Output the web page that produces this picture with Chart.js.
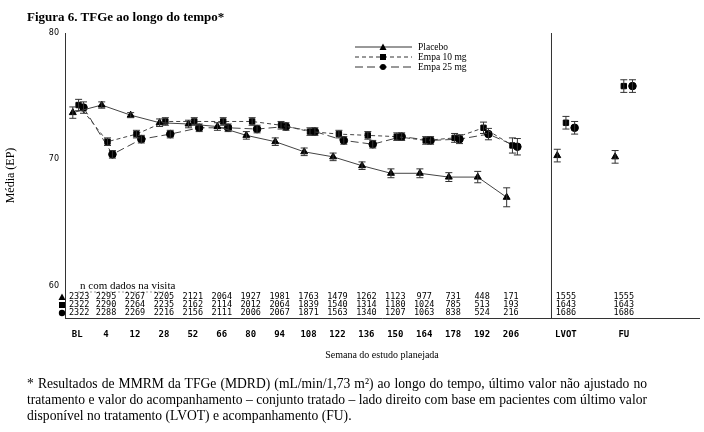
<!DOCTYPE html>
<html><head><meta charset="utf-8">
<script src="https://cdn.jsdelivr.net/npm/chart.js@4/dist/chart.umd.min.js"></script>
<style>
body{margin:0;width:704px;height:432px;background:#fff;position:relative;overflow:hidden;font-family:"Liberation Serif",serif}
#t{position:absolute;left:27px;top:9px;font-weight:bold;font-size:13px}
#f{position:absolute;left:27px;top:376px;width:620px;font-size:13.6px;line-height:16px;text-align:justify}
canvas{position:absolute;left:0;top:0}
</style></head><body>
<canvas id="c" width="704" height="432"></canvas>
<div id="t">Figura 6. TFGe ao longo do tempo*</div>
<div id="f">* Resultados de MMRM da TFGe (MDRD) (mL/min/1,73 m²) ao longo do tempo, último valor não ajustado no tratamento e valor do acompanhamento – conjunto tratado – lado direito com base em pacientes com último valor disponível no tratamento (LVOT) e acompanhamento (FU).</div>
<script>
const categories=["BL","4","12","28","52","66","80","94","108","122","136","150","164","178","192","206"];
const extraCats=["LVOT","FU"];
const catPos=[0,1,2,3,4,5,6,7,8,9,10,11,12,13,14,15];
const extraPos=[16.9,18.9];
const placebo=[73.7,74.3,73.5,72.9,72.8,72.6,71.9,71.4,70.6,70.2,69.5,68.9,68.9,68.6,68.6,67.0];
const empa10=[74.3,71.4,72.0,73.0,73.0,73.0,73.0,72.7,72.2,72.0,71.9,71.8,71.5,71.7,72.5,71.1];
const empa25=[74.1,70.4,71.6,72.0,72.5,72.5,72.4,72.6,72.2,71.5,71.2,71.8,71.5,71.6,72.0,71.0];
const placeboExtra=[70.3,70.2];
const empa10Extra=[72.9,75.8];
const empa25Extra=[72.5,75.8];
const placeboErr=[0.45,0.25,0.2,0.3,0.3,0.3,0.3,0.3,0.3,0.3,0.3,0.35,0.35,0.35,0.45,0.75];
const empa10Err=[0.45,0.3,0.3,0.3,0.3,0.3,0.3,0.3,0.3,0.3,0.3,0.3,0.3,0.35,0.45,0.6];
const empa25Err=[0.45,0.3,0.3,0.3,0.3,0.3,0.3,0.3,0.3,0.3,0.3,0.3,0.3,0.35,0.45,0.65];
const placeboExtraErr=[0.5,0.5];
const empa10ExtraErr=[0.5,0.5];
const empa25ExtraErr=[0.5,0.5];
const nPlacebo=["2323","2295","2267","2205","2121","2064","1927","1981","1763","1479","1262","1123","977","731","448","171"];
const nEmpa10=["2322","2290","2264","2235","2162","2114","2012","2064","1839","1540","1314","1180","1024","785","513","193"];
const nEmpa25=["2322","2288","2269","2216","2156","2111","2006","2067","1871","1563","1340","1207","1063","838","524","216"];
const nPlaceboExtra=["1555","1555"],nEmpa10Extra=["1643","1643"],nEmpa25Extra=["1686","1686"];
const allPos=catPos.concat(extraPos), allLabels=categories.concat(extraCats);
const pts=(xs,ys,off)=>xs.map((x,i)=>({x:x+off,y:ys[i]}));
const mk=(label,xs,ys,err,off,style,dash,line)=>({label,data:pts(xs,ys,off),err,pointStyle:style,borderDash:dash,showLine:line,
 borderColor:'#444',backgroundColor:'#000',pointBackgroundColor:'#000',pointBorderColor:'#000',borderWidth:1,
 pointRadius:style==='triangle'?4:3.8,pointHoverRadius:4});
const datasets=[
 mk('Placebo',catPos,placebo,placeboErr,-0.15,'triangle',[],true),
 mk('Empa 10 mg',catPos,empa10,empa10Err,0.05,'rect',[4,3],true),
 mk('Empa 25 mg',catPos,empa25,empa25Err,0.22,'circle',[8,4],true),
 mk('p',extraPos,placeboExtra,placeboExtraErr,-0.3,'triangle',[],false),
 mk('e10',extraPos,empa10Extra,empa10ExtraErr,0,'rect',[],false),
 mk('e25',extraPos,empa25Extra,empa25ExtraErr,0.3,'circle',[],false)];
const deco={id:'deco',afterDatasetsDraw(ch){
 const c=ch.ctx,xs=ch.scales.x,ys=ch.scales.y,a=ch.chartArea;
 c.save();c.strokeStyle='#333';c.lineWidth=1;
 ch.data.datasets.forEach(d=>d.data.forEach((p,i)=>{const x=xs.getPixelForValue(p.x),y1=ys.getPixelForValue(p.y-d.err[i]),y2=ys.getPixelForValue(p.y+d.err[i]);
  c.beginPath();c.moveTo(x,y1);c.lineTo(x,y2);c.moveTo(x-3.5,y1);c.lineTo(x+3.5,y1);c.moveTo(x-3.5,y2);c.lineTo(x+3.5,y2);c.stroke();}));
 const dx=xs.getPixelForValue(16.4);c.beginPath();c.moveTo(dx,a.top);c.lineTo(dx,a.bottom);c.stroke();
 const L=[['Placebo',[], 'triangle'],['Empa 10 mg',[4,3],'rect'],['Empa 25 mg',[8,4],'circle']];
 c.font='9.5px "Liberation Serif"';c.fillStyle='#000';c.textBaseline='middle';
 L.forEach((l,i)=>{const y=47+i*10;c.setLineDash(l[1]);c.beginPath();c.moveTo(355,y);c.lineTo(412,y);c.stroke();c.setLineDash([]);
  const mx=383;c.beginPath();if(l[2]==='triangle'){c.moveTo(mx,y-3.5);c.lineTo(mx+3.5,y+3);c.lineTo(mx-3.5,y+3);c.closePath();}
  else if(l[2]==='rect'){c.rect(mx-3,y-3,6,6);}else{c.arc(mx,y,3,0,7);}c.fill();c.fillText(l[0],418,y);});
 c.font='11px "Liberation Serif"';c.fillText('n com dados na visita',80,286);
 c.setLineDash([2,2]);c.strokeStyle='#999';c.beginPath();c.moveTo(78,292);c.lineTo(170,292);c.stroke();c.setLineDash([]);
 c.font='8.5px "DejaVu Sans Mono"';c.textAlign='center';
 const rows=[[nPlacebo,nPlaceboExtra,'triangle'],[nEmpa10,nEmpa10Extra,'rect'],[nEmpa25,nEmpa25Extra,'circle']];
 rows.forEach((r,k)=>{const y=297+k*8;const vals=r[0].concat(r[1]);
  vals.forEach((v,i)=>{const x=xs.getPixelForValue(allPos[i])+(i===0?2:0);c.fillText(v,x,y);});
  const mx=62;c.beginPath();if(r[2]==='triangle'){c.moveTo(mx,y-3.5);c.lineTo(mx+3.5,y+3);c.lineTo(mx-3.5,y+3);c.closePath();}
  else if(r[2]==='rect'){c.rect(mx-3,y-3,6,6);}else{c.arc(mx,y,3.2,0,7);}c.fill();});
 c.restore();}};
new Chart(document.getElementById('c'),{type:'scatter',data:{datasets},plugins:[deco],
 options:{responsive:false,animation:false,layout:{padding:{top:33,right:4,bottom:67,left:0}},
  plugins:{legend:{display:false},tooltip:{enabled:false}},
  scales:{
   x:{type:'linear',min:-0.42,max:21.5,grid:{display:false,drawTicks:true,tickLength:5,tickColor:'#333'},border:{color:'#333'},
    afterBuildTicks:s=>{s.ticks=allPos.map(v=>({value:v}));},
    afterFit:s=>{s.height=47;},
    ticks:{color:'#000',font:{family:'DejaVu Sans Mono',size:9,weight:'bold'},padding:6,maxRotation:0,autoSkip:false,
     callback:(v,i)=>allLabels[i]},
    title:{display:true,text:'Semana do estudo planejada',color:'#000',font:{family:'Liberation Serif',size:10},padding:{top:4}}},
   y:{min:57.45,max:80,grid:{display:false,tickLength:4,tickColor:'#333'},border:{color:'#333'},
    afterBuildTicks:s=>{s.ticks=[60,70,80].map(v=>({value:v}));},
    afterFit:s=>{s.width=65;},
    ticks:{color:'#000',font:{family:'DejaVu Sans',size:8},padding:2},
    title:{display:true,text:'Média (EP)',color:'#000',font:{family:'Liberation Serif',size:12},padding:{bottom:8}}}}}});
</script></body></html>
